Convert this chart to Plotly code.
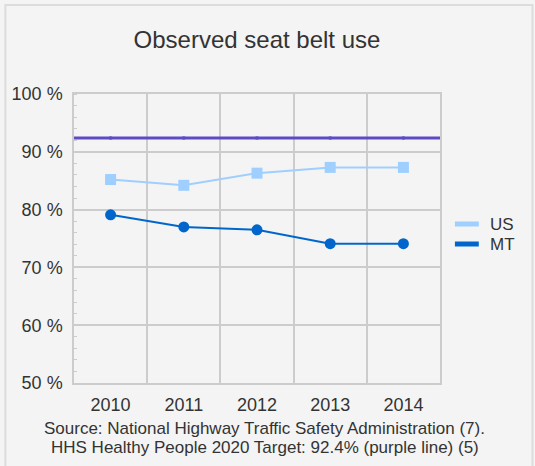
import plotly.graph_objects as go

# Werte
years = ["2010", "2011", "2012", "2013", "2014"]
us_values = [85.2, 84.2, 86.3, 87.3, 87.3]
mt_values = [79.1, 77.0, 76.5, 74.1, 74.1]
target_value = 92.4
target_values = [92.4, 92.4, 92.4, 92.4, 92.4]
y_ticks = [50, 60, 70, 80, 90, 100]
y_tick_labels = ["50 %", "60 %", "70 %", "80 %", "90 %", "100 %"]
legend_names = ["US", "MT"]

title_text = "Observed seat belt use"
source_lines = ["Source: National Highway Traffic Safety Administration (7).",
                "HHS Healthy People 2020 Target: 92.4% (purple line) (5)"]

FONT = "Arial, Liberation Sans, sans-serif"
US_COLOR = "#9fcfff"
MT_COLOR = "#0066cc"
TARGET_COLOR = "#5b4cc4"
GRID = "#cccccc"
BG = "#f4f4f4"
TXT = "#333333"

W, H = 535, 466
L, R, T, B = 72, 95, 94, 83
pw, ph = W - L - R, H - T - B


def px_x(p):
    # Pixel -> paper x
    return (p - L) / pw


def px_y(p):
    # Pixel -> paper y
    return (H - B - p) / ph


fig = go.Figure()

# Zielwert-Linie (lila), ueber die ganze Breite
fig.add_hline(y=target_value, line=dict(color=TARGET_COLOR, width=3), layer="above")
fig.add_trace(go.Scatter(
    x=years, y=target_values, mode="markers",
    marker=dict(color="#8a80dd", size=4, symbol="circle"),
    showlegend=False, hoverinfo="skip"
))

fig.add_trace(go.Scatter(
    x=years, y=us_values, mode="lines+markers", name="US",
    line=dict(color=US_COLOR, width=2),
    marker=dict(color=US_COLOR, size=11, symbol="square"),
    showlegend=False
))
fig.add_trace(go.Scatter(
    x=years, y=mt_values, mode="lines+markers", name="MT",
    line=dict(color=MT_COLOR, width=2),
    marker=dict(color=MT_COLOR, size=11, symbol="circle"),
    showlegend=False
))

# Legende von Hand (kurze dicke Linien wie im Original)
for i, (name, col) in enumerate(zip(legend_names, [US_COLOR, MT_COLOR])):
    ly = 224 + i * 20
    fig.add_shape(type="line", xref="paper", yref="paper",
                  x0=px_x(455), x1=px_x(479), y0=px_y(ly), y1=px_y(ly),
                  line=dict(color=col, width=5))
    fig.add_annotation(text=name, xref="paper", yref="paper",
                       x=px_x(488), y=px_y(ly), xanchor="left", yanchor="middle",
                       showarrow=False, font=dict(family=FONT, size=17, color=TXT))

# Rahmen um das ganze Panel
fig.add_shape(
    type="rect", xref="paper", yref="paper",
    x0=px_x(3), x1=px_x(533), y0=px_y(480), y1=px_y(5),
    line=dict(color="#dcdcdc", width=2), fillcolor="rgba(0,0,0,0)", layer="below"
)

# Quellenangabe, zwei Zeilen
for i, line in enumerate(source_lines):
    fig.add_annotation(
        text=line, xref="paper", yref="paper",
        x=px_x(264), y=px_y(428.5 + i * 18.5), xanchor="center", yanchor="middle",
        showarrow=False, font=dict(family=FONT, size=17, color=TXT)
    )

fig.update_layout(
    width=W, height=H,
    margin=dict(l=L, r=R, t=T, b=B),
    paper_bgcolor=BG, plot_bgcolor=BG,
    font=dict(family=FONT, color=TXT),
    title=dict(text=title_text, x=0.5, xanchor="center", xref="paper",
               y=1 - 40 / H, yanchor="middle",
               font=dict(family=FONT, size=24, color=TXT)),
    showlegend=False,
)

fig.update_xaxes(
    type="category", tickson="boundaries", showgrid=True, gridcolor=GRID, gridwidth=1.5,
    showline=True, linecolor=GRID, linewidth=1.5, mirror=True,
    ticks="", tickfont=dict(size=18, color=TXT), zeroline=False,
    range=[-0.5, 4.5], ticklabelstandoff=5
)
fig.update_yaxes(
    range=[50, 100], tickvals=y_ticks, ticktext=y_tick_labels,
    showgrid=True, gridcolor=GRID, gridwidth=1.5,
    showline=True, linecolor=GRID, linewidth=1.5, mirror=True,
    ticks="", tickfont=dict(size=18, color=TXT), zeroline=False,
    minor=dict(dtick=2, ticks="inside", ticklen=3, tickcolor=GRID, showgrid=False),
    ticklabelstandoff=6
)

# Body-Rand entfernen, damit die Grafik genau im Fenster sitzt
fig.write_html("out.html",
               config={"displayModeBar": False},
               post_script="document.body.style.margin='0';"
                           "document.body.style.background='#f4f4f4';")
